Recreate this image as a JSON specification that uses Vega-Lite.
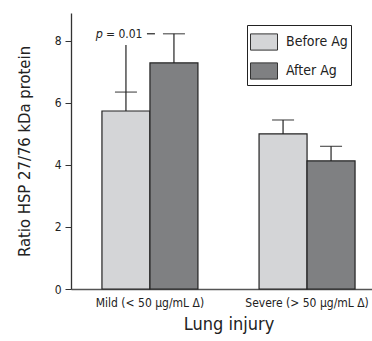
{
  "$schema": "https://vega.github.io/schema/vega-lite/v6.json",
  "width": 315,
  "height": 276,
  "autosize": "none",
  "padding": {"left": 71, "top": 13, "right": 0, "bottom": 52},
  "config": {
    "view": {"stroke": null},
    "font": "DejaVu Sans Condensed, sans-serif"
  },
  "layer": [
    {
      "data": {"values": [
        {"group": "Mild (< 50 μg/mL Δ)", "time": "Before Ag", "value": 5.74, "upper": 6.35},
        {"group": "Mild (< 50 μg/mL Δ)", "time": "After Ag", "value": 7.29, "upper": 8.23},
        {"group": "Severe (> 50 μg/mL Δ)", "time": "Before Ag", "value": 5.0, "upper": 5.45},
        {"group": "Severe (> 50 μg/mL Δ)", "time": "After Ag", "value": 4.13, "upper": 4.6}
      ]},
      "encoding": {
        "x": {
          "field": "group", "type": "nominal", "sort": null,
          "scale": {"domain": ["Mild (< 50 μg/mL Δ)", "Severe (> 50 μg/mL Δ)"], "paddingInner": 0.389, "paddingOuter": 0.197},
          "axis": {
            "title": "Lung injury", "titleFontSize": 18, "titleFontWeight": "normal", "titleColor": "#222",
            "titlePadding": 7,
            "labelAngle": 0, "labelFontSize": 12, "labelColor": "#222", "labelPadding": 8,
            "ticks": false, "domainColor": "#555", "domainWidth": 1.5
          }
        },
        "xOffset": {"field": "time", "type": "nominal", "scale": {"domain": ["Before Ag", "After Ag"], "paddingInner": 0, "paddingOuter": 0}}
      },
      "layer": [
        {
          "mark": {"type": "rule", "color": "#222", "strokeWidth": 1.2},
          "encoding": {
            "y": {"field": "value", "type": "quantitative"},
            "y2": {"field": "upper"}
          }
        },
        {
          "mark": {"type": "tick", "orient": "horizontal", "size": 22, "thickness": 1.3, "color": "#222"},
          "encoding": {
            "y": {"field": "upper", "type": "quantitative"}
          }
        },
        {
          "mark": {"type": "bar", "stroke": "#222", "strokeWidth": 1.2},
          "encoding": {
            "y": {
              "field": "value", "type": "quantitative",
              "scale": {"domain": [0, 8.9], "nice": false},
              "axis": {
                "values": [0, 2, 4, 6, 8], "grid": false,
                "title": "Ratio HSP 27/76 kDa protein", "titleFontSize": 16.5, "titleFontWeight": "normal",
                "titleColor": "#222", "titlePadding": 22,
                "labelFontSize": 12, "labelColor": "#222", "labelPadding": 4,
                "tickSize": 6, "tickColor": "#333", "domainColor": "#333", "domainWidth": 1.3
              }
            },
            "color": {
              "field": "time", "type": "nominal",
              "scale": {"domain": ["Before Ag", "After Ag"], "range": ["#d4d5d7", "#7f8082"]},
              "legend": {
                "title": null, "orient": "none", "legendX": 176, "legendY": 12,
                "fillColor": "white", "strokeColor": "#222", "padding": 3,
                "symbolType": "M-1,-0.6H1V0.6H-1Z", "symbolSize": 729,
                "symbolStrokeColor": "#333", "symbolStrokeWidth": 1, "symbolOpacity": 1,
                "labelFontSize": 14, "labelColor": "#222", "labelOffset": 8, "rowPadding": 4
              }
            }
          }
        }
      ]
    },
    {
      "data": {"values": [
        {"group": "Mild (< 50 μg/mL Δ)", "time": "Before Ag", "y1": 6.35, "y2": 7.87, "ty": 8.23}
      ]},
      "encoding": {
        "x": {"field": "group", "type": "nominal"},
        "xOffset": {"field": "time", "type": "nominal"}
      },
      "layer": [
        {
          "mark": {"type": "rule", "color": "#222", "strokeWidth": 1.2},
          "encoding": {
            "y": {"field": "y1", "type": "quantitative"},
            "y2": {"field": "y2"}
          }
        },
        {
          "mark": {"type": "text", "text": "p", "fontStyle": "italic", "fontSize": 12.5, "align": "right", "dx": -23, "color": "#222"},
          "encoding": {"y": {"field": "ty", "type": "quantitative"}}
        },
        {
          "mark": {"type": "text", "text": "= 0.01", "fontSize": 12, "align": "left", "dx": -20, "color": "#222"},
          "encoding": {"y": {"field": "ty", "type": "quantitative"}}
        }
      ]
    },
    {
      "data": {"values": [{"group": "Mild (< 50 μg/mL Δ)", "dy": 8.23}]},
      "mark": {"type": "rule", "color": "#222", "strokeWidth": 1.2, "xOffset": -3, "x2Offset": 5},
      "encoding": {
        "x": {"field": "group", "type": "nominal"},
        "x2": {"field": "group"},
        "y": {"field": "dy", "type": "quantitative"}
      }
    }
  ]
}
